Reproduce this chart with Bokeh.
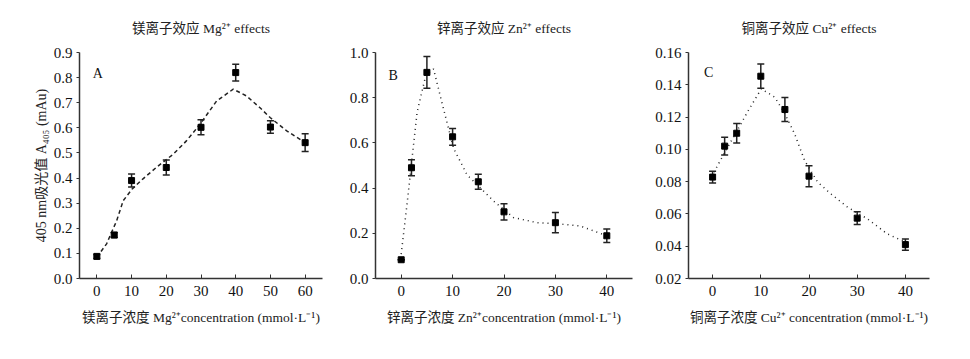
from bokeh.plotting import figure
from bokeh.models import (Range1d, FixedTicker, PrintfTickFormatter, Whisker, TeeHead,
                          ColumnDataSource, Label, Title)
from bokeh.layouts import row
from bokeh.embed import file_html
from bokeh.resources import INLINE

# ---- data ----
mg_x = [0, 5, 10, 20, 30, 40, 50, 60]
mg_y = [0.088, 0.173, 0.39, 0.442, 0.602, 0.82, 0.603, 0.541]
mg_err = [0.008, 0.01, 0.026, 0.03, 0.03, 0.033, 0.025, 0.035]
mg_fit_x = [0, 2.8, 5.7, 7.6, 10.2, 13.3, 17.2, 22, 25.8, 29.7, 34.5, 39.3, 43.1, 47, 49.9, 54.7, 60]
mg_fit_y = [0.085, 0.138, 0.23, 0.31, 0.357, 0.397, 0.443, 0.495, 0.548, 0.614, 0.707, 0.754, 0.727, 0.68, 0.641, 0.588, 0.541]

zn_x = [0, 2, 5, 10, 15, 20, 30, 40]
zn_y = [0.083, 0.49, 0.912, 0.627, 0.428, 0.295, 0.247, 0.189]
zn_err = [0.0, 0.035, 0.07, 0.037, 0.033, 0.036, 0.045, 0.03]
zn_fit_x = [0, 1.2, 3.1, 4.8, 6.3, 7.9, 10.2, 12.8, 15, 18, 21.9, 26.5, 30, 34.9, 40]
zn_fit_y = [0.108, 0.342, 0.737, 0.9, 0.927, 0.78, 0.576, 0.459, 0.41, 0.342, 0.269, 0.247, 0.243, 0.232, 0.189]

cu_x = [0, 2.5, 5, 10, 15, 20, 30, 40]
cu_y = [0.0828, 0.102, 0.110, 0.1453, 0.1247, 0.0834, 0.0574, 0.041]
cu_err = [0.0037, 0.0055, 0.006, 0.0075, 0.0075, 0.0065, 0.004, 0.0035]
cu_fit_x = [0.3, 2.5, 5.3, 7.4, 10.1, 12.9, 15, 17, 19.1, 21.8, 24.5, 28, 32.1, 36.2, 40]
cu_fit_y = [0.0859, 0.098, 0.1127, 0.124, 0.1375, 0.1323, 0.122, 0.1097, 0.093, 0.0797, 0.0725, 0.0642, 0.057, 0.0477, 0.0425]

SERIF = "'Liberation Serif', 'Noto Sans CJK SC'"

panels = [
    dict(x=mg_x, y=mg_y, e=mg_err, fx=mg_fit_x, fy=mg_fit_y, dash="4 3",
         xr=(-5, 65), yr=(0, 0.9), xt=[0, 10, 20, 30, 40, 50, 60],
         yt=[0.0, 0.1, 0.2, 0.3, 0.4, 0.5, 0.6, 0.7, 0.8, 0.9], fmt="%.1f",
         title="镁离子效应 Mg²⁺ effects",
         xlabel="镁离子浓度 Mg²⁺concentration (mmol·L⁻¹)",
         ylabel="405 nm吸光值 A₄₀₅ (mAu)",
         letter="A", lx=0.3, ly=0.818,
         width=345, left=79, right=23),
    dict(x=zn_x, y=zn_y, e=zn_err, fx=zn_fit_x, fy=zn_fit_y, dash="1 4",
         xr=(-5, 45), yr=(0, 1.0), xt=[0, 10, 20, 30, 40],
         yt=[0.0, 0.2, 0.4, 0.6, 0.8, 1.0], fmt="%.1f",
         title="锌离子效应 Zn²⁺ effects",
         xlabel="锌离子浓度 Zn²⁺concentration (mmol·L⁻¹)",
         ylabel=None,
         letter="B", lx=-1.56, ly=0.90,
         width=307, left=30, right=20),
    dict(x=cu_x, y=cu_y, e=cu_err, fx=cu_fit_x, fy=cu_fit_y, dash="1 4",
         xr=(-5, 45), yr=(0.02, 0.16), xt=[0, 10, 20, 30, 40],
         yt=[0.02, 0.04, 0.06, 0.08, 0.10, 0.12, 0.14, 0.16], fmt="%.2f",
         title="铜离子效应 Cu²⁺ effects",
         xlabel="铜离子浓度 Cu²⁺ concentration (mmol·L⁻¹)",
         ylabel=None,
         letter="C", lx=-0.8, ly=0.1476,
         width=310, left=35, right=33),
]

figs = []
for P in panels:
    p = figure(width=P["width"], height=340, output_backend="svg", toolbar_location=None,
               x_range=Range1d(*P["xr"]), y_range=Range1d(*P["yr"]),
               min_border_left=P["left"], min_border_right=P["right"],
               min_border_top=52, min_border_bottom=62)
    p.outline_line_color = None
    p.grid.visible = False
    p.background_fill_color = "white"
    p.border_fill_color = "white"

    p.title.text = P["title"]
    p.title.align = "center"
    p.title.text_font = SERIF
    p.title.text_font_size = "13.5px"
    p.title.text_font_style = "normal"
    p.title.text_color = "#222222"
    p.title.standoff = 34

    for ax in (p.xaxis[0], p.yaxis[0]):
        ax.axis_line_color = "#333333"
        ax.axis_line_width = 1.5
        ax.major_tick_line_color = "#333333"
        ax.minor_tick_line_color = None
        ax.major_label_text_font = SERIF
        ax.major_label_text_font_size = "15px"
        ax.major_label_text_color = "#111111"
        ax.axis_label_text_font = SERIF
        ax.axis_label_text_font_size = "13.5px"
        ax.axis_label_text_font_style = "normal"
        ax.axis_label_text_color = "#222222"

    p.xaxis.ticker = FixedTicker(ticks=P["xt"])
    p.xaxis.major_tick_in = 4
    p.xaxis.major_tick_out = 0
    p.xaxis.major_label_standoff = 7
    p.xaxis.axis_label = P["xlabel"]
    p.xaxis.axis_label_standoff = 11

    p.yaxis.ticker = FixedTicker(ticks=P["yt"])
    p.yaxis.formatter = PrintfTickFormatter(format=P["fmt"])
    p.yaxis.major_tick_in = 0
    p.yaxis.major_tick_out = 3
    p.yaxis.major_label_standoff = 4
    if P["ylabel"]:
        yt = Title(text=P["ylabel"], align="center", offset=-14, standoff=4,
                   text_font=SERIF, text_font_size="14px", text_font_style="normal",
                   text_color="#222222")
        p.add_layout(yt, "left")

    # fitted curve
    p.line(P["fx"], P["fy"], line_color="#222222", line_width=1.5, line_dash=P["dash"])

    # error bars
    src = ColumnDataSource(dict(x=P["x"], y=P["y"],
                                up=[a + b for a, b in zip(P["y"], P["e"])],
                                lo=[a - b for a, b in zip(P["y"], P["e"])]))
    w = Whisker(base="x", upper="up", lower="lo", source=src,
                line_color="#222222", line_width=1.5,
                upper_head=TeeHead(size=7, line_color="#222222", line_width=1.5),
                lower_head=TeeHead(size=7, line_color="#222222", line_width=1.5))
    p.add_layout(w)

    p.scatter("x", "y", source=src, marker="square", size=6,
              fill_color="black", line_color="black")

    p.add_layout(Label(x=P["lx"], y=P["ly"], text=P["letter"], text_font=SERIF,
                       text_font_size="14px", text_align="center",
                       text_baseline="middle", text_color="#111111"))
    figs.append(p)

layout = row(*figs)
open("out.html", "w").write(file_html(layout, INLINE))
